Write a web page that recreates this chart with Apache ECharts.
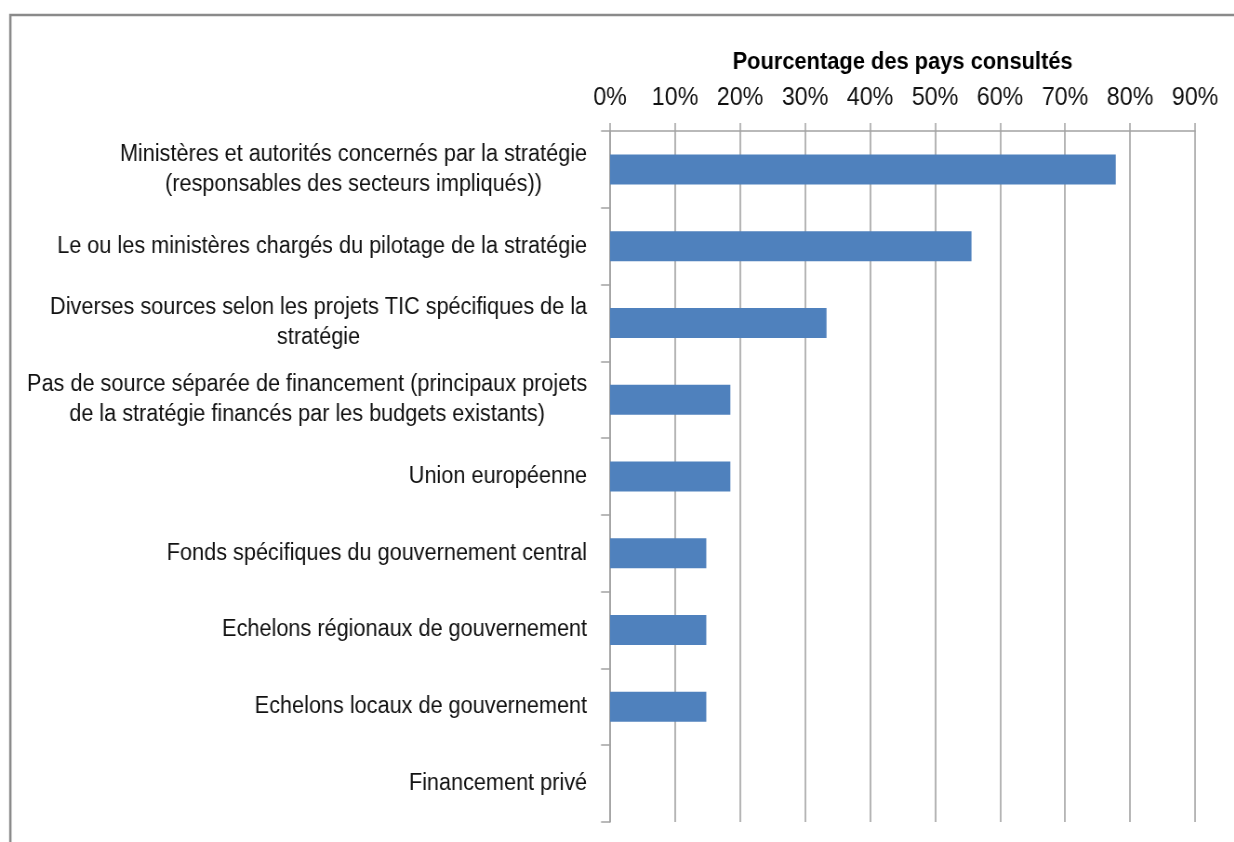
<!DOCTYPE html>
<html>
<head>
<meta charset="utf-8">
<script src="https://cdn.jsdelivr.net/npm/echarts@6/dist/echarts.min.js"></script>
<style>
  html, body { margin: 0; padding: 0; background: #fff; overflow: hidden; }
  #wrap { width: 1234px; height: 842px; overflow: hidden; position: relative; }
  /* Narrow-set text: the chart is laid out wider and squeezed horizontally */
  #chart { width: 1327px; height: 842px; transform: scaleX(0.93); transform-origin: 0 0; }
</style>
</head>
<body>
<div id="wrap"><div id="chart"></div></div>
<script>
// Funding sources for the strategy
const categories = [
  'Ministères et autorités concernés par la stratégie\n(responsables des secteurs impliqués))',
  'Le ou les ministères chargés du pilotage de la stratégie',
  'Diverses sources selon les projets TIC spécifiques de la\nstratégie',
  'Pas de source séparée de financement (principaux projets\nde la stratégie financés par les budgets existants)',
  'Union européenne',
  'Fonds spécifiques du gouvernement central',
  'Echelons régionaux de gouvernement',
  'Echelons locaux de gouvernement',
  'Financement privé'
];
// Share of consulted countries (%)
const shares = [77.8, 55.6, 33.3, 18.5, 18.5, 14.8, 14.8, 14.8, 0];
const axisTitle = 'Pourcentage des pays consultés';

const FONT = '"Liberation Sans", Arial, sans-serif';
const GRID_COLOR = '#a3a3a3';

const chart = echarts.init(document.getElementById('chart'));
chart.setOption({
  animation: false,
  backgroundColor: '#ffffff',
  textStyle: { fontFamily: FONT },
  graphic: [{
    type: 'rect',
    left: 8.6, top: 12.6,
    shape: { x: 0, y: 0, width: 3000, height: 3000 },
    style: { fill: 'none', stroke: '#8a8a8a', lineWidth: 2.5 },
    silent: true
  }],
  grid: { left: 656, right: 42, top: 131, bottom: 20, containLabel: false },
  xAxis: {
    type: 'value',
    position: 'top',
    min: 0, max: 90, interval: 10,
    name: axisTitle,
    nameLocation: 'middle',
    nameGap: 56,
    nameTextStyle: { fontSize: 23.5, fontWeight: 'bold', color: '#000', fontFamily: FONT },
    axisLine: { show: true, lineStyle: { color: GRID_COLOR, width: 1.5 } },
    axisTick: { show: true, inside: false, length: 8, lineStyle: { color: GRID_COLOR, width: 1.5 } },
    axisLabel: { formatter: '{value}%', fontSize: 25, color: '#111', margin: 20, fontFamily: FONT },
    splitLine: { show: true, lineStyle: { color: GRID_COLOR, width: 1.6 } }
  },
  yAxis: {
    type: 'category',
    inverse: true,
    data: categories,
    axisLine: { show: true, lineStyle: { color: GRID_COLOR, width: 1.6 } },
    axisTick: { show: true, inside: false, length: 9.7, lineStyle: { color: GRID_COLOR, width: 1.5 } },
    axisLabel: {
      margin: 24.7,
      align: 'right',
      formatter: v => '{c|' + v + '}',
      rich: {
        c: { align: 'center', fontSize: 23.3, lineHeight: 30, color: '#111', fontFamily: FONT }
      }
    },
    splitLine: { show: false }
  },
  series: [{
    type: 'bar',
    data: shares,
    barWidth: 30,
    itemStyle: { color: '#4f81bd', borderWidth: 0 }
  }]
});
</script>
</body>
</html>
